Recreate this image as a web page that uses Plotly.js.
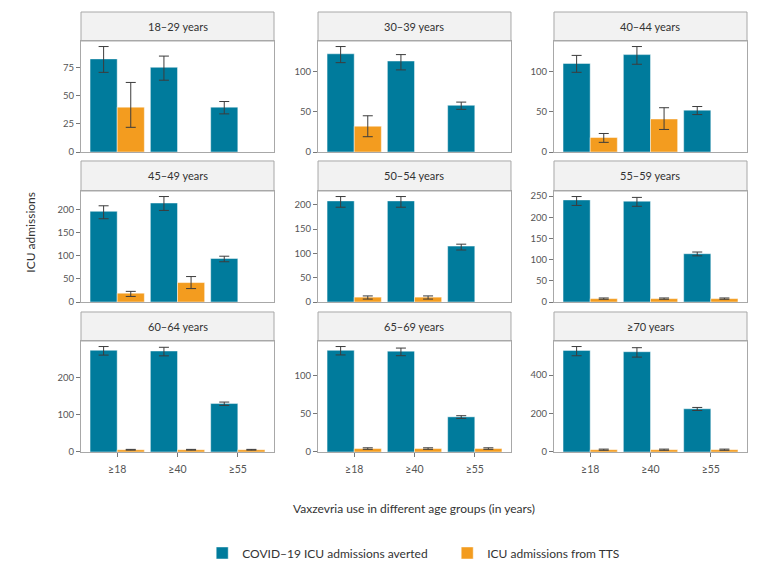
<!DOCTYPE html>
<html>
<head>
<meta charset="utf-8">
<script src="https://cdn.plot.ly/plotly-3.0.1.min.js"></script>
<style>body{margin:0;background:#fff}</style>
</head>
<body>
<div id="chartDiv" style="width:783px;height:574px"></div>
<script>
// values, one row per age-group panel
var categories = ['≥18', '≥40', '≥55'];
var panelTitles = ['18–29 years', '30–39 years', '40–44 years', '45–49 years', '50–54 years',
    '55–59 years', '60–64 years', '65–69 years', '≥70 years'];
var tickSteps = [25, 50, 50, 50, 50, 50, 100, 50, 200];

var avertedVals = [[83, 75.5, 40], [122, 113, 58], [110, 121, 52], [196, 214, 94], [208, 208, 115],
    [241, 238, 114], [273, 271, 130], [133, 132, 46], [529, 522, 225]];
var avertedLo = [[71, 64, 34], [111, 102, 53], [99, 109, 46.5], [180, 198, 87], [195, 195, 107],
    [228, 226, 109], [260, 258, 125], [127, 126, 44], [501, 494, 216]];
var avertedHi = [[94, 85.5, 45], [131, 121, 62], [120, 131, 56.5], [208, 228, 99], [217, 217, 119],
    [249, 247, 118], [283, 281, 134], [138, 136, 47.5], [549, 543, 232]];

var ttsVals = [[40, null, null], [32, null, null], [18, 41, null], [19, 42, null], [10, 10, null],
    [8, 8, 8], [6, 6, 6], [4.5, 4.5, 4.5], [12, 12, 12]];
var ttsLo = [[22, null, null], [19, null, null], [12, 28, null], [12, 29, null], [6, 6, null],
    [6.5, 6.5, 6.5], [5, 5, 5], [3.5, 3.5, 3.5], [9, 9, 9]];
var ttsHi = [[62, null, null], [45, null, null], [23, 55, null], [23, 55, null], [12.5, 12.5, null],
    [9.5, 9.5, 9.5], [7, 7, 7], [5.5, 5.5, 5.5], [15, 15, 15]];

var blue = '#007b9c';
var orange = '#f39c1f';
var fontFam = 'Lato, "Open Sans", sans-serif';

// panel placement (paper fractions)
var colDomains = [[0, 0.2898], [0.3559, 0.6456], [0.7102, 1]];
var rowDomains = [[0.6818, 0.9341], [0.3409, 0.5932], [0, 0.2523]];
var stripTops = [1.0, 0.6614, 0.3182];

function diff(a, b) { // a - b, keeping nulls
    return a.map(function (v, i) { return (v === null || b[i] === null) ? null : v - b[i]; });
}

var data = [];
var layout = {
    width: 783,
    height: 574,
    margin: {l: 81, r: 36, t: 12, b: 122, autoexpand: false},
    paper_bgcolor: '#fff',
    plot_bgcolor: '#fff',
    font: {family: fontFam, color: '#333'},
    barmode: 'group',
    bargap: 0.1,
    bargroupgap: 0,
    showlegend: true,
    legend: {
        orientation: 'h',
        x: 0.182, xanchor: 'left',
        y: -0.2295, yanchor: 'middle',
        font: {size: 12, color: '#333'},
        entrywidth: 200,
        traceorder: 'normal'
    },
    shapes: [],
    annotations: []
};

for (var p = 0; p < 9; p++) {
    var row = Math.floor(p / 3), col = p % 3;
    var sfx = p === 0 ? '' : String(p + 1);
    var xa = 'x' + sfx, ya = 'y' + sfx;

    data.push({
        type: 'bar', x: categories, y: avertedVals[p], xaxis: xa, yaxis: ya,
        name: 'COVID–19 ICU admissions averted', legendgroup: 'a', showlegend: p === 0,
        marker: {color: blue, line: {color: 'rgba(255,255,255,0.45)', width: 1}},
        error_y: {type: 'data', symmetric: false, array: diff(avertedHi[p], avertedVals[p]),
            arrayminus: diff(avertedVals[p], avertedLo[p]), color: '#3c3c3c', thickness: 1, width: 5},
        hoverinfo: 'y'
    });
    data.push({
        type: 'bar', x: categories, y: ttsVals[p], xaxis: xa, yaxis: ya,
        name: 'ICU admissions from TTS', legendgroup: 't', showlegend: p === 0,
        marker: {color: orange, line: {color: 'rgba(255,255,255,0.45)', width: 1}},
        error_y: {type: 'data', symmetric: false, array: diff(ttsHi[p], ttsVals[p]),
            arrayminus: diff(ttsVals[p], ttsLo[p]), color: '#3c3c3c', thickness: 1, width: 5},
        hoverinfo: 'y'
    });

    // ggplot style 5% expansion on the y scale
    var top = Math.max.apply(null, avertedHi[p].concat(ttsHi[p].filter(function (v) { return v !== null; })));
    layout['xaxis' + sfx] = {
        domain: colDomains[col], anchor: ya, type: 'category',
        range: [-0.6, 2.6], fixedrange: true,
        showline: true, mirror: true, linecolor: '#a8a8a8', linewidth: 1,
        showgrid: false, zeroline: false,
        ticks: row === 2 ? 'outside' : '', ticklen: 4, tickcolor: '#777',
        ticklabelstandoff: 3,
        showticklabels: row === 2,
        tickfont: {size: 10.5, color: '#555', family: fontFam}
    };
    layout['yaxis' + sfx] = {
        domain: rowDomains[row], anchor: xa,
        range: [-0.05 * top, 1.05 * top], fixedrange: true,
        dtick: tickSteps[p], tick0: 0,
        showline: true, mirror: true, linecolor: '#a8a8a8', linewidth: 1,
        showgrid: false, zeroline: false,
        ticks: 'outside', ticklen: 4, tickcolor: '#777',
        tickfont: {size: 9.5, color: '#555', family: fontFam}
    };

    // facet strip
    layout.shapes.push({
        type: 'rect', xref: 'paper', yref: 'paper',
        x0: colDomains[col][0], x1: colDomains[col][1],
        y0: rowDomains[row][1], y1: stripTops[row],
        fillcolor: '#f2f2f2', line: {color: '#a8a8a8', width: 1}, layer: 'below'
    });
    layout.annotations.push({
        xref: 'paper', yref: 'paper', xanchor: 'center', yanchor: 'middle',
        x: (colDomains[col][0] + colDomains[col][1]) / 2,
        y: (rowDomains[row][1] + stripTops[row]) / 2,
        text: panelTitles[p], showarrow: false,
        font: {size: 11, color: '#333', family: fontFam}
    });
}

layout.annotations.push({
    xref: 'paper', yref: 'paper', x: -0.077, y: 0.5, textangle: -90,
    xanchor: 'center', yanchor: 'middle',
    text: 'ICU admissions', showarrow: false,
    font: {size: 12, color: '#333', family: fontFam}
});
layout.annotations.push({
    xref: 'paper', yref: 'paper', x: 0.5, y: -0.1295,
    xanchor: 'center', yanchor: 'middle',
    text: 'Vaxzevria use in different age groups (in years)', showarrow: false,
    font: {size: 12, color: '#333', family: fontFam}
});

Plotly.newPlot('chartDiv', data, layout, {displayModeBar: false, staticPlot: true});
</script>
</body>
</html>
